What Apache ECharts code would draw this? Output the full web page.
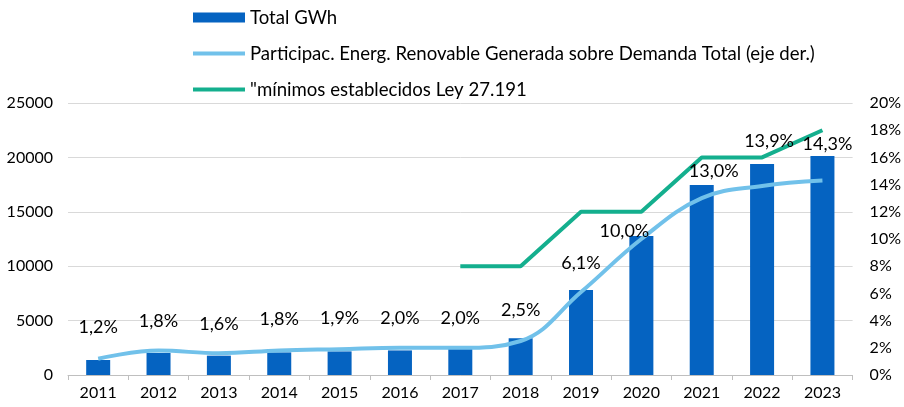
<!DOCTYPE html>
<html>
<head>
<meta charset="utf-8">
<script src="https://cdn.jsdelivr.net/npm/echarts@6/dist/echarts.min.js"></script>
<style>
html,body{margin:0;padding:0;background:#fff;}
#chart{width:904px;height:407px;}
</style>
</head>
<body>
<div id="chart"></div>
<script>
// ---- data ----
const years = ['2011','2012','2013','2014','2015','2016','2017','2018','2019','2020','2021','2022','2023'];
const totalGWh = [1380, 2030, 1780, 2080, 2170, 2260, 2450, 3370, 7810, 12780, 17460, 19390, 20130];
const renovablePct = [1.2, 1.8, 1.6, 1.8, 1.9, 2.0, 2.0, 2.5, 6.1, 10.0, 13.0, 13.9, 14.3];
const minimosLey = [null, null, null, null, null, null, 8, 8, 12, 12, 16, 16, 18];
const leftTicks = [0, 5000, 10000, 15000, 20000, 25000];
const rightTicks = [0, 2, 4, 6, 8, 10, 12, 14, 16, 18, 20];

const seriesNames = ['Total GWh',
  'Participac. Energ. Renovable Generada sobre Demanda Total (eje der.)',
  '"mínimos establecidos Ley 27.191'];

// label offsets (style only)
const labelShift = [[0,-2],[0,0],[0,0],[0,-2],[0,-2],[0,-1],[0,-1],[0,-2],[0,0],[-17,21],[12,2],[7,-16],[5,-7]];

const font = 'Lato, "Open Sans", sans-serif';
const chart = echarts.init(document.getElementById('chart'), null, {renderer:'canvas'});

const pctData = renovablePct.map((v,i)=>({
  value: v,
  label: { offset: labelShift[i] }
}));

const lineIcon = 'path://M0,0H52V4H0Z';

chart.setOption({
  animation: false,
  textStyle: { fontFamily: font },
  legend: {
    orient: 'vertical',
    left: 188,
    top: 2,
    itemWidth: 52,
    itemHeight: 10,
    itemGap: 15,
    symbolKeepAspect: true,
    textStyle: { fontFamily: font, fontSize: 18.6, color: '#000', lineHeight: 21 },
    data: [
      { name: seriesNames[0], icon: 'rect' },
      { name: seriesNames[1], icon: lineIcon },
      { name: seriesNames[2], icon: lineIcon }
    ]
  },
  grid: { left: 68, right: 47, top: 103, bottom: 32, containLabel: false },
  xAxis: {
    type: 'category',
    data: years,
    boundaryGap: true,
    axisLine: { lineStyle: { color: '#bfbfbf', width: 1 } },
    axisTick: { show: true, length: 5, lineStyle: { color: '#bfbfbf' } },
    axisLabel: { color: '#000', fontSize: 16, fontFamily: font, margin: 10 }
  },
  yAxis: [
    {
      type: 'value', min: leftTicks[0], max: leftTicks[leftTicks.length-1], interval: 5000,
      axisLine: { show: false }, axisTick: { show: false },
      axisLabel: { color: '#000', fontSize: 16, fontFamily: font, margin: 15, formatter: v => String(v) },
      splitLine: { lineStyle: { color: '#d9d9d9', width: 1 } }
    },
    {
      type: 'value', min: rightTicks[0], max: rightTicks[rightTicks.length-1], interval: 2,
      axisLine: { show: false }, axisTick: { show: false },
      axisLabel: { color: '#000', fontSize: 16, fontFamily: font, margin: 17, formatter: '{value}%' },
      splitLine: { show: false }
    }
  ],
  series: [
    {
      name: seriesNames[0],
      type: 'bar',
      yAxisIndex: 0,
      data: totalGWh,
      barWidth: 24,
      itemStyle: { color: '#0563C1' },
      z: 1
    },
    {
      name: seriesNames[1],
      type: 'line',
      yAxisIndex: 1,
      data: pctData,
      smooth: 0.4,
      symbol: 'circle',
      symbolSize: 0,
      showSymbol: true,
      lineStyle: { color: '#71C1EA', width: 4 },
      itemStyle: { color: '#71C1EA' },
      label: {
        show: true,
        position: 'top',
        distance: 20,
        color: '#000',
        fontSize: 18,
        fontFamily: font,
        formatter: p => p.value.toFixed(1).replace('.', ',') + '%'
      },
      z: 3
    },
    {
      name: seriesNames[2],
      type: 'line',
      yAxisIndex: 1,
      data: minimosLey,
      symbol: 'none',
      connectNulls: false,
      lineStyle: { color: '#14AF8E', width: 4 },
      itemStyle: { color: '#14AF8E' },
      z: 2
    }
  ]
});
</script>
</body>
</html>
